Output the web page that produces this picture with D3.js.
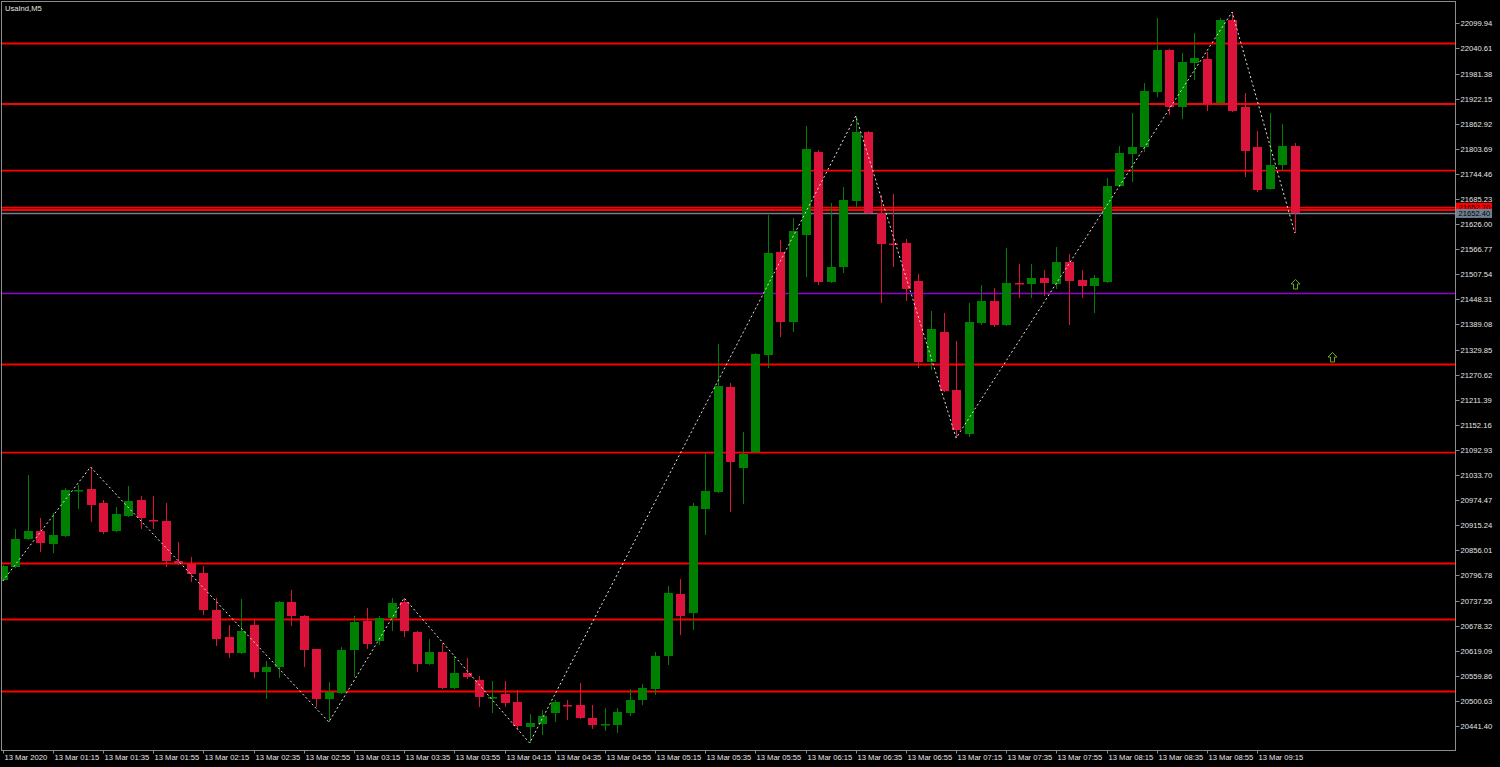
<!DOCTYPE html>
<html><head><meta charset="utf-8">
<script src="https://cdn.jsdelivr.net/npm/d3@7"></script>
<style>
html,body{margin:0;padding:0;background:#000;overflow:hidden;}
svg{display:block;}
text{font-family:"Liberation Sans","DejaVu Sans",sans-serif;}
</style></head>
<body>
<svg id="c" width="1500" height="767"></svg>
<script>
const title = "UsaInd,M5";
const opens  = [20786.0,20816.7,20882.8,20901.6,20871.0,20889.8,20997.0,21000.8,20967.7,20901.6,20937.0,20974.8,20927.6,20925.3,20830.8,20823.8,20802.5,20715.2,20651.5,20613.7,20679.8,20568.8,20580.6,20734.1,20701.0,20623.1,20505.1,20519.3,20620.8,20689.2,20642.0,20696.3,20734.1,20663.3,20587.7,20616.0,20531.1,20566.5,20550.0,20508.6,20516.9,20498.0,20439.0,20446.1,20472.1,20491.0,20491.0,20460.3,20444.9,20443.8,20472.1,20502.8,20528.7,20606.6,20752.9,20708.1,20953.6,20993.7,21241.5,21050.3,21088.1,21317.0,21560.1,21394.9,21600.3,21796.1,21489.3,21524.7,21680.5,21843.4,21652.2,21580.2,21581.4,21491.7,21300.5,21371.3,21234.4,21130.6,21392.6,21444.5,21387.8,21487.0,21484.6,21498.8,21484.6,21536.5,21494.0,21479.9,21489.3,21715.9,21791.4,21808.0,21937.8,22036.9,21902.4,22006.2,22015.6,21911.8,22107.7,21902.4,21808.0,21708.8,21765.5,21810.3];
const highs  = [20821.4,20906.4,21033.8,20932.3,20944.1,21003.1,21010.2,21052.7,20974.8,20958.3,21007.8,20984.2,20984.2,20967.7,20875.7,20840.3,20819.0,20743.5,20679.8,20741.1,20691.6,20594.8,20736.4,20762.4,20703.4,20623.5,20545.2,20627.8,20701.0,20719.9,20701.0,20743.5,20743.5,20665.6,20646.7,20637.3,20606.6,20601.9,20559.4,20547.6,20547.6,20526.4,20469.7,20479.2,20502.8,20502.8,20542.9,20491.0,20483.9,20483.9,20528.7,20540.5,20616.0,20771.8,20788.3,20967.7,21085.7,21343.0,21250.9,21135.3,21321.8,21647.5,21588.5,21640.4,21857.5,21800.9,21675.8,21713.5,21881.1,21845.7,21694.7,21697.0,21590.8,21508.2,21420.9,21416.2,21350.1,21439.8,21482.2,21475.2,21569.6,21531.8,21531.8,21517.6,21571.9,21555.4,21517.6,21505.8,21734.8,21810.3,21888.2,21959.0,22112.4,22039.3,22029.8,22077.0,22032.2,22112.4,22126.6,21935.4,21845.7,21888.2,21862.2,21817.4];
const lows   = [20783.6,20814.0,20880.4,20852.1,20849.7,20887.5,20953.6,20922.9,20894.6,20899.3,20934.7,20906.4,20906.4,20816.7,20821.4,20781.3,20703.4,20630.2,20601.9,20611.3,20554.7,20505.1,20554.7,20677.4,20580.6,20486.2,20450.8,20516.9,20557.0,20623.1,20632.6,20665.6,20651.5,20568.8,20585.4,20528.7,20528.7,20552.3,20486.2,20472.1,20486.2,20431.9,20401.3,20420.2,20450.8,20455.6,20457.9,20434.3,20429.6,20424.9,20465.0,20491.0,20514.6,20585.4,20656.2,20668.0,20892.2,20991.3,20946.5,20965.4,21085.7,21286.3,21359.5,21371.3,21501.1,21482.2,21487.0,21510.6,21664.0,21649.8,21439.8,21524.7,21444.5,21286.3,21281.6,21229.7,21121.1,21123.5,21387.8,21383.1,21385.5,21451.6,21451.6,21456.3,21472.8,21387.8,21451.6,21416.2,21487.0,21714.0,21725.3,21796.1,21926.0,21883.5,21874.0,21966.1,21892.9,21909.4,21890.6,21737.1,21701.7,21707.0,21751.3,21605.0];
const closes = [20819.0,20882.8,20901.6,20873.3,20892.2,20998.4,20998.4,20963.0,20899.3,20941.8,20972.4,20932.3,20926.4,20830.8,20823.8,20800.2,20715.2,20646.7,20613.7,20665.6,20568.8,20580.6,20734.1,20701.0,20620.8,20505.1,20521.6,20620.8,20686.9,20634.9,20696.3,20731.7,20665.6,20587.7,20616.0,20531.1,20566.5,20557.0,20509.8,20509.8,20495.7,20441.4,20448.5,20465.0,20498.0,20489.8,20460.3,20443.8,20446.1,20474.4,20502.8,20531.1,20606.6,20755.3,20701.0,20960.6,20996.0,21243.9,21064.5,21083.4,21319.4,21557.8,21394.9,21609.7,21803.2,21489.3,21524.7,21682.9,21843.4,21652.2,21579.0,21579.0,21472.8,21300.5,21378.4,21232.1,21140.0,21394.9,21444.5,21387.8,21487.0,21484.6,21498.8,21487.0,21536.5,21491.7,21479.9,21498.8,21715.9,21793.8,21808.0,21940.1,22036.9,21902.4,22008.6,22018.0,21909.4,22107.7,21892.9,21798.5,21706.5,21765.5,21810.3,21652.4];
const timeLabels = ["13 Mar 2020","13 Mar 01:15","13 Mar 01:35","13 Mar 01:55","13 Mar 02:15","13 Mar 02:35","13 Mar 02:55","13 Mar 03:15","13 Mar 03:35","13 Mar 03:55","13 Mar 04:15","13 Mar 04:35","13 Mar 04:55","13 Mar 05:15","13 Mar 05:35","13 Mar 05:55","13 Mar 06:15","13 Mar 06:35","13 Mar 06:55","13 Mar 07:15","13 Mar 07:35","13 Mar 07:55","13 Mar 08:15","13 Mar 08:35","13 Mar 08:55","13 Mar 09:15"];
const priceTicks = [22099.94,22040.61,21981.38,21922.15,21862.92,21803.69,21744.46,21685.23,21626.00,21566.77,21507.54,21448.31,21389.08,21329.85,21270.62,21211.39,21152.16,21092.93,21033.70,20974.47,20915.24,20856.01,20796.78,20737.55,20678.32,20619.09,20559.86,20500.63,20441.40];
const redLevels = [22052.3,21909.5,21752.0,21664.7,21659.3,21294.6,21086.4,20824.9,20692.8,20522.8];
const purpleLevels = [21464.1];
const bidPrice = 21652.40;
const askPrice = 21652.70;
const zigzagIdx = [0,7,26,32,42,68,76,98,103];
const zigzagType = ["L","H","L","H","L","H","L","H","L"];
const arrowIdx = [103,106];
const arrowPrice = [21484.6,21312.3];

const W = 1500, H = 767;
const plotL = 1.5, plotR = 1455.5, plotT = 1.5, plotB = 750.5;
const svg = d3.select("#c");
svg.append("rect").attr("width",W).attr("height",H).attr("fill","#000");

const x = d3.scaleLinear().domain([0,100]).range([2.7,1257.2]);
const y = d3.scaleLinear().domain([20441.40,22099.94]).range([726,23.3]);

const defs = svg.append("defs");
defs.append("clipPath").attr("id","clip").append("rect")
  .attr("x",plotL).attr("y",plotT).attr("width",plotR-plotL).attr("height",plotB-plotT);
const g = svg.append("g").attr("clip-path","url(#clip)");

// level lines
g.selectAll("line.red").data(redLevels).enter().append("line")
  .attr("x1",plotL).attr("x2",plotR)
  .attr("y1",d=>y(d)).attr("y2",d=>y(d))
  .attr("stroke","#ff0000").attr("stroke-width",1.8);
g.selectAll("line.purple").data(purpleLevels).enter().append("line")
  .attr("x1",plotL).attr("x2",plotR)
  .attr("y1",d=>Math.round(y(d))+0.5).attr("y2",d=>Math.round(y(d))+0.5)
  .attr("stroke","#9400d3").attr("stroke-width",1.5);
g.append("line").attr("x1",plotL).attr("x2",plotR)
  .attr("y1",Math.round(y(bidPrice))+0.5).attr("y2",Math.round(y(bidPrice))+0.5)
  .attr("stroke","#708090").attr("stroke-width",1.5);

// candles
const data = opens.map((o,i)=>({i,o,h:highs[i],l:lows[i],c:closes[i]}));
const up = "#008000", dn = "#dc143c";
const cg = g.append("g");
cg.selectAll("line.wick").data(data).enter().append("line")
  .attr("x1",d=>Math.round(x(d.i))+0.5).attr("x2",d=>Math.round(x(d.i))+0.5)
  .attr("y1",d=>y(d.h)).attr("y2",d=>y(d.l))
  .attr("stroke",d=>d.c>=d.o?up:dn).attr("stroke-width",1);
cg.selectAll("rect.body").data(data).enter().append("rect")
  .attr("x",d=>Math.round(x(d.i))-4).attr("width",9)
  .attr("y",d=>Math.min(y(d.o),y(d.c)))
  .attr("height",d=>Math.max(1.5,Math.abs(y(d.o)-y(d.c))))
  .attr("fill",d=>d.c>=d.o?up:dn);

// zigzag
const zz = zigzagIdx.map((k,j)=>[x(k), y(zigzagType[j]==="H"?highs[k]:lows[k])]);
g.append("path").attr("d",d3.line()(zz))
  .attr("fill","none").attr("stroke","#e2e2da").attr("stroke-width",1)
  .attr("stroke-dasharray","2,2.5");

// arrows
const arrowPath = "M0,-5L4.5,-0.5L2,-0.5L2,4.5L-2,4.5L-2,-0.5L-4.5,-0.5Z";
g.selectAll("path.arrow").data(arrowIdx).enter().append("path")
  .attr("d",arrowPath)
  .attr("transform",(d,j)=>`translate(${Math.round(x(d))+0.5},${Math.round(y(arrowPrice[j]))+0.5})`)
  .attr("fill","none").attr("stroke","#6aa81a").attr("stroke-width",1);

// frame
svg.append("rect").attr("x",plotL).attr("y",plotT).attr("width",plotR-plotL).attr("height",plotB-plotT)
  .attr("fill","none").attr("stroke","#8c8c8c").attr("stroke-width",1);

// right axis ticks
const ra = svg.append("g");
priceTicks.forEach(p=>{
  const yy = Math.round(y(p))+0.5;
  ra.append("line").attr("x1",plotR).attr("x2",plotR+4).attr("y1",yy).attr("y2",yy).attr("stroke","#8c8c8c");
  ra.append("text").attr("x",plotR+5).attr("y",yy).attr("dy","0.35em")
    .attr("fill","#e6e6e6").attr("font-size","7.6px").text(p.toFixed(2));
});

// price labels (ask then bid)
function priceLabel(p, bg, fg, dyOff){
  const yy = y(p)+dyOff;
  ra.append("rect").attr("x",plotR+0.5).attr("y",yy-4.5).attr("width",36).attr("height",9).attr("fill",bg);
  ra.append("text").attr("x",plotR+3).attr("y",yy).attr("dy","0.35em")
    .attr("fill",fg).attr("font-size","7.6px").text(p.toFixed(2));
}
priceLabel(askPrice,"#ff0000","#000",-5.5);
priceLabel(bidPrice,"#708090","#000",0.5);

// bottom axis
const ba = svg.append("g");
timeLabels.forEach((t,k)=>{
  const xx = Math.round(x(k*4))+0.5;
  ba.append("line").attr("x1",xx).attr("x2",xx).attr("y1",plotB).attr("y2",plotB+3).attr("stroke","#8c8c8c");
  ba.append("text").attr("x",xx+1).attr("y",760)
    .attr("fill","#e6e6e6").attr("font-size","7.6px").text(t);
});

// title
svg.append("text").attr("x",5).attr("y",11).attr("fill","#e6e6e6").attr("font-size","7.6px").text(title);
</script>
</body></html>
